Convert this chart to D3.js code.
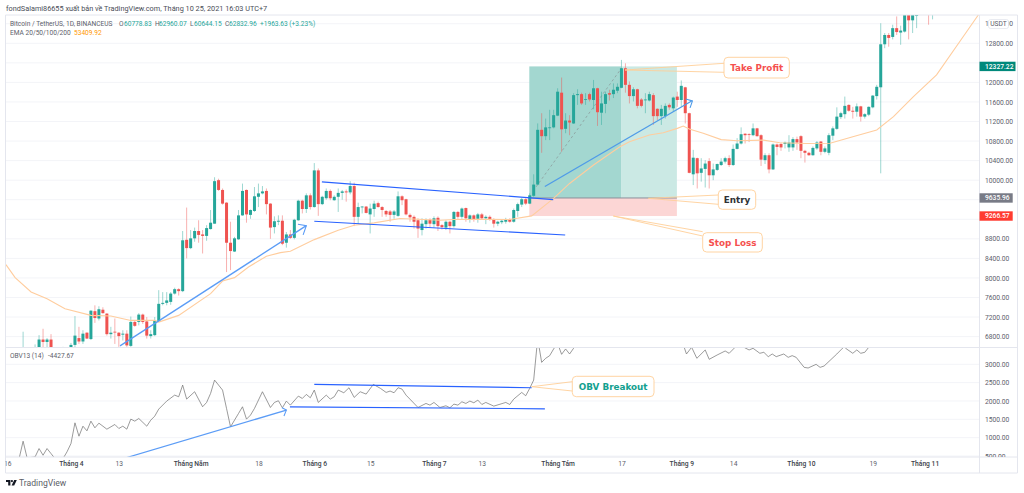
<!DOCTYPE html>
<html><head><meta charset="utf-8">
<style>html,body{margin:0;padding:0;background:#fff}svg{display:block}text{font-family:Roboto,"Open Sans",sans-serif}</style>
<script src="https://cdn.jsdelivr.net/npm/d3@7"></script></head><body><svg id="c" width="1024" height="493"></svg>
<script>
// Day index 0 = 16 March; candles start on day 4
const firstDay = 4;
const opens = [
6180,6200,6190,5820,6470,6740,6690,6740,6370,6250,
5880,6390,6410,6630,6770,6700,6880,6750,7320,7170,
7350,7270,6850,6900,6880,6840,6860,6610,7100,7100,
7250,7110,6810,6830,7120,7470,7490,7510,7680,7770,
7730,8780,8610,8810,8960,8890,8860,9000,9110,10000,
9800,9540,8720,8540,8790,9280,9800,9290,9370,9660,
9730,9780,9520,9040,9150,9170,8720,8890,8820,9180,
9580,9410,9690,9450,10200,9510,9630,9780,9590,9660,
9740,9770,9750,9880,9250,9450,9460,9300,9410,9530,
9450,9370,9360,9290,9270,9670,9610,9290,9250,9180,
8980,9100,9190,9100,9230,9080,9030,9150,9060,9350,
9250,9430,9200,9280,9210,9300,9220,9250,9200,9110,
9140,9150,9200,9150,9370,9500,9610,9520,9680,9910,
11030,10900,11070,11080,11320,11790,11050,11220,11160,11740,
11760,11650,11760,11640,11880,11380,11560,11780,11760,11830,
11890,12290,11950,11720,11860,11650,11640,11630,11740,11460,
11310,11310,11540,11470,11710,11640,11900,11370,10120,10450,
10150,10230,10390,10100,10210,10310,10380,10450,10310,10640,
10750,10950,10940,10920,11060,10920,10410,10510,10220,10730,
10740,10740,10670,10670,10840,10900,10600,10560,10510,10650,
10790,10580,10560,10910,11050,11290,11350,11540,11420,11400,
11510,11300,11340,11490,11720,11900,12780,12970,12930,13110,
13020,13040,13380,13270,13360,13600,13700,13800,13600];
const highs = [
6900,6450,6400,6640,6830,6960,6770,6850,6520,6290,
6590,6520,6670,7220,7000,6930,6890,7340,7440,7420,
7400,7280,7000,7170,6890,6930,6930,7210,7130,7280,
7270,7200,6930,7200,7750,7710,7710,7710,7800,7790,
8960,9440,8980,9030,9180,8980,9080,9390,10060,10030,
9830,9550,9150,8840,9390,9930,9810,9400,9860,9930,
9880,9830,9530,9260,9280,9280,8940,8980,9210,9600,
9600,9730,9730,10350,10240,9680,9830,9810,9690,9830,
9800,9810,9980,9950,9540,9470,9470,9520,9580,9560,
9470,9390,9390,9390,9770,9690,9620,9320,9280,9220,
9220,9220,9220,9260,9260,9100,9180,9170,9370,9370,
9440,9440,9300,9300,9330,9330,9280,9280,9220,9170,
9190,9230,9220,9420,9540,9640,9630,9730,10120,11160,
11370,11260,11440,11440,11880,12100,11370,11330,11780,11860,
11790,11780,11790,12050,11890,11810,11810,11850,11980,11980,
12460,12390,12020,11900,11870,11680,11780,11810,11780,11470,
11540,11570,11570,11710,11810,12040,11910,11380,10620,10460,
10450,10410,10450,10340,10340,10450,10480,10510,10730,10860,
11080,10960,10960,11160,11070,10940,10550,10550,10750,10750,
10770,10790,10920,10880,10890,10920,10620,10580,10690,10800,
10800,10690,10960,11100,11490,11400,11710,11550,11500,11570,
11520,11370,11510,11740,11950,13210,13010,13010,13180,13350,
13160,13490,13420,13420,13450,13800,13900,13900,13800];
const lows = [
5670,5850,5780,5780,6380,6520,6540,6260,6030,5860,
5860,6350,6150,6570,6650,6650,6750,6730,7080,7130,
7270,6820,6760,6650,6590,6720,6590,6590,7000,7030,
7060,6760,6760,6810,7100,7440,7440,7450,7660,7640,
7710,8400,8590,8740,8720,8500,8760,8990,9110,9780,
9500,8120,8160,8530,8780,9270,9130,9210,9350,9450,
9710,9300,8800,8910,9080,8670,8620,8800,8790,9170,
9320,9330,9400,9440,9270,9490,9600,9590,9580,9350,
9600,9560,9710,9060,9100,9320,9320,8910,9250,9440,
9250,9250,9150,9210,9250,9490,9280,9150,9010,8820,
8870,9010,9040,9030,8960,8990,8980,8910,9030,9210,
9210,9150,9130,9150,9130,9190,9100,9170,9030,9060,
9100,9110,9130,9130,9250,9450,9490,9510,9660,9900,
10560,10820,10820,11060,11310,10580,10960,10920,11150,11540,
11540,11540,11610,11450,11110,11130,11370,11630,11680,11780,
11880,11790,11570,11610,11470,11490,11370,11610,11130,11230,
11130,11260,11440,11400,11500,11500,11160,10140,9900,9830,
9970,9850,9830,10000,10190,10290,10340,10270,10290,10630,
10730,10750,10780,10900,10890,10290,10330,10140,10210,10510,
10600,10650,10580,10600,10620,10450,10360,10500,10500,10620,
10510,10550,10510,10820,11030,11250,11260,11400,11260,11300,
11200,11260,11310,11470,11650,10140,12700,12730,12880,12970,
12770,13020,12880,13010,13110,13500,13500,13180,13290];
const closes = [
6200,6190,5820,6470,6740,6690,6740,6370,6250,5880,
6390,6410,6630,6820,6700,6860,6760,7330,7180,7360,
7280,6850,6880,6885,6810,6860,6620,7100,7020,7250,
7100,6820,6850,7130,7470,7490,7540,7680,7770,7730,
8770,8610,8810,8960,8880,8860,9020,9130,9980,9800,
9520,8720,8550,8810,9280,9780,9300,9390,9670,9730,
9770,9510,9030,9160,9170,8700,8890,8820,9190,9580,
9410,9690,9450,10200,9510,9660,9780,9630,9660,9740,
9770,9750,9880,9250,9450,9460,9330,9420,9520,9450,
9390,9300,9290,9360,9670,9590,9300,9240,9150,9010,
9110,9180,9110,9220,9060,9040,9150,9060,9350,9250,
9420,9220,9280,9200,9300,9220,9250,9190,9110,9150,
9170,9200,9150,9390,9510,9610,9520,9690,9910,11030,
10900,11080,11080,11330,11810,11040,11220,11180,11740,11760,
11570,11660,11650,11880,11390,11570,11760,11750,11850,11910,
12290,11950,11720,11860,11520,11520,11650,11760,11310,11310,
11460,11520,11490,11690,11640,11930,11370,10150,10460,10140,
10240,10340,10100,10220,10330,10380,10450,10310,10640,10750,
10940,10920,10930,11060,10900,10420,10510,10220,10730,10680,
10670,10770,10770,10840,10770,10600,10560,10510,10660,10770,
10580,10650,10920,11060,11300,11370,11520,11420,11400,11510,
11300,11350,11500,11730,11910,12780,12970,12910,13110,13030,
13060,13380,13270,13380,13390,13700,13750,13600,13700];

const emaDays = [-0.3,2,6,10,14.5,21,26,31,37,38,43,51,54,57,60.5,65,68.5,71,77,83,
  87,92,98.5,103,108.5,112,119.5,126,131.5,137,141,147,153.6,156,161,164.5,168,169.5,171,
  174.5,179,183,189.6,193.7,200.4,206.3,212,218,222.2,227.2,233,239.7,243.5];
const emaValues = [8272,8006,7712,7575,7371,7234,7220,7131,7131,7097,7234,7678,7937,8006,8224,8443,8518,8545,8784,8976,
  9078,9126,9215,9201,9181,9194,9201,9194,9270,9626,9933,10309,10684,10787,10923,10971,11060,11108,11046,
  10960,10830,10805,10820,10765,10750,10755,10890,11026,11300,11709,12153,12939,13383];

const obvDays = [3,4,5,7,8,9,10,11,12,14,15,16,17,18,19,20,21,22,23,25,27,28,29,30,31,32,33,35,36,37,38,40,42,43,44,45,47,49,50,51,52,54,55,56,58,59,60,61,62,64,66,67,68,69,70,71,73,74,75,76,77,78,80,81,82,83,
  84.4,85.7,87,88.5,90,91.8,93.6,95,96,97,98,99,100,103,105,106,107,108.5,110,111,112,113,114,115,116,117,118,119,120,122,125,126,127,129,130,131,132,133,134,135,136,137,138,139,140,141,142,143,
  169,170.3,171.6,172.9,175,176,178,180,181,182.5,184.7,186,187,188.7,189.7,190.8,191.8,192.8,194.7,195.8,196.8,197.8,199.8,200.8,202.8,203.8,204.8,208,209,210,210.2,212,213,214,215,216,217];
const obvValues = [430,903,448,475,703,521,703,566,430,430,612,840,1404,1040,1313,1186,1450,1268,1395,1231,1359,1250,1313,1231,1505,1450,1523,1313,1477,1587,1778,1997,2160,2115,2434,2051,2252,1842,1960,2206,2570,2297,1796,1295,1659,1842,1505,1614,1796,2252,1823,1960,2006,1814,1997,1887,2133,2069,2179,2088,2297,1960,2160,2051,2115,2297,
  2224,2361,2097,2252,2188,2452,2343,2233,2270,2224,2361,2324,2160,1823,1933,1887,1960,1823,1869,1814,1915,1887,1978,1933,1997,1951,2024,1905,1960,1860,1960,1905,2051,2233,2142,2343,2570,3700,3053,3163,3235,3418,3570,3272,3418,3281,3436,3700,
  3700,3281,3464,3163,3391,3136,3254,3363,3300,3464,3464,3391,3436,3300,3327,3208,3281,3208,3281,3190,3236,3190,2917,2899,2999,2917,2953,3281,3391,3500,3436,3300,3391,3300,3327,3464,3800];

const gridTicks = [13200,12800,12400,12000,11600,11200,10800,10400,10000,9600,9200,8800,8400,8000,7600,7200,6800];
const priceTicks = [13200,12800,12000,11600,11200,10800,10400,10000,8800,8400,8000,7600,7200,6800];
const obvTicks = [3000,2500,2000,1500,1000,500];
const timeDays = [0,16,28,46,63,77,91,107,119,138,154,169,182,199,217,230];
const timeLabels = ["16","Tháng 4","13","Tháng Năm","18","Tháng 6","15","Tháng 7","13","Tháng Tám","17","Tháng 9","14","Tháng 10","19","Tháng 11"];

const takeProfit = 12327.22, entry = 9635.96, stopLoss = 9266.57;
const positionDays = [130.9,153.9,167.9];
const dashDays = [132.6,154], dashPrices = [9863,12290];

const wedgeMain = [[78.9,9965],[136.9,9604]];
const wedgeMainLow = [[77,9160],[139.9,8878]];
const arrowMainUp = [[28.3,6610],[75,9070]];
const arrowMainHead = [[72.9,9100],[75,9070],[74.2,8880]];
const arrowBox = [[134.8,9870],[171.6,11620]];
const arrowBoxHead = [[170.1,11660],[171.8,11620],[171.2,11480]];
const obvTop = [[77,2454],[131.5,2361]];
const obvLow = [[70.9,1841],[134.8,1787]];
const obvArrow = [[30,459],[70,1751]];
const obvArrowHead = [[68.9,1814],[70,1751],[69.4,1590]];

const left=5.5, axisX=979.5, right=1017.5, paneTop=15, split=347.5, paneBottom=457, frameEnd=473;
const svg = d3.select("#c");
const x = d3.scaleLinear().domain([0,230]).range([7.15,924.6]);
const y = d3.scaleLinear().domain([6800,12800]).range([336.6,43.3]);
const yO = d3.scaleLinear().domain([500,3000]).range([456,364.3]);
const defs = svg.append("defs");
defs.append("clipPath").attr("id","m").append("rect").attr("x",left).attr("y",paneTop).attr("width",axisX-left).attr("height",split-paneTop);
defs.append("clipPath").attr("id","o").append("rect").attr("x",left).attr("y",split).attr("width",axisX-left).attr("height",paneBottom-split);
defs.append("clipPath").attr("id","oa").append("rect").attr("x",axisX).attr("y",split).attr("width",right-axisX).attr("height",paneBottom-split);
defs.append("clipPath").attr("id","t").append("rect").attr("x",left).attr("y",paneBottom).attr("width",axisX-left).attr("height",frameEnd-paneBottom);

const GRID="#f3f4f8", BORDER="#e4e6ee", TXT="#5d606b", GREEN="#26a69a", RED="#ef5350";
const main = svg.append("g").attr("clip-path","url(#m)");
const obvG = svg.append("g").attr("clip-path","url(#o)");
main.selectAll(".g").data(gridTicks).join("line").attr("x1",left).attr("x2",axisX).attr("y1",d=>y(d)).attr("y2",d=>y(d)).attr("stroke",GRID).attr("stroke-width",1);
obvG.selectAll(".g").data(obvTicks).join("line").attr("x1",left).attr("x2",axisX).attr("y1",d=>yO(d)).attr("y2",d=>yO(d)).attr("stroke",GRID).attr("stroke-width",1);

main.append("rect").attr("x",x(positionDays[0])).attr("width",x(positionDays[1])-x(positionDays[0])).attr("y",y(takeProfit)).attr("height",y(entry)-y(takeProfit)).attr("fill","#a3d7d0");
main.append("rect").attr("x",x(positionDays[1])).attr("width",x(positionDays[2])-x(positionDays[1])).attr("y",y(takeProfit)).attr("height",y(entry)-y(takeProfit)).attr("fill","#cbe9e4");
main.append("rect").attr("x",x(positionDays[0])).attr("width",x(positionDays[2])-x(positionDays[0])).attr("y",y(entry)).attr("height",y(stopLoss)-y(entry)).attr("fill","#fcd6d5");
main.append("line").attr("x1",x(positionDays[0])).attr("x2",x(positionDays[2])).attr("y1",y(entry)).attr("y2",y(entry)).attr("stroke","#8b8e99").attr("stroke-width",1);
main.append("line").attr("x1",x(dashDays[0])).attr("x2",x(dashDays[1])).attr("y1",y(dashPrices[0])).attr("y2",y(dashPrices[1])).attr("stroke","#8b9c9c").attr("stroke-width",0.8).attr("stroke-dasharray","2.5 2.5");

const days = opens.map((_,i)=>i+firstDay);
const col = i => closes[i]>=opens[i]?GREEN:RED;
main.selectAll("line.w").data(days).join("line").attr("class","w")
  .attr("x1",d=>x(d)).attr("x2",d=>x(d))
  .attr("y1",(d,i)=>y(highs[i])).attr("y2",(d,i)=>y(lows[i]))
  .attr("stroke",(d,i)=>col(i)).attr("stroke-opacity",0.5).attr("stroke-width",0.9);
main.selectAll("rect.b").data(days).join("rect").attr("class","b")
  .attr("x",d=>x(d)-1.5).attr("width",3)
  .attr("y",(d,i)=>y(Math.max(opens[i],closes[i])))
  .attr("height",(d,i)=>Math.max(0.8,Math.abs(y(opens[i])-y(closes[i]))))
  .attr("fill",(d,i)=>col(i));

main.append("path").attr("d",d3.line().x(d=>x(d)).y((d,i)=>y(emaValues[i]))(emaDays)).attr("fill","none").attr("stroke","#ffcd9e").attr("stroke-width",1.1);
obvG.append("path").attr("d",d3.line().x(d=>x(d)).y((d,i)=>yO(obvValues[i]))(obvDays)).attr("fill","none").attr("stroke","#707070").attr("stroke-width",0.7);

const pl = (g,pts,sc,stroke,w)=>g.append("path").attr("d",d3.line().x(d=>x(d[0])).y(d=>sc(d[1]))(pts)).attr("fill","none").attr("stroke",stroke).attr("stroke-width",w);
const BLUE="#2962ff", LB="#5b9cf6";
pl(main,wedgeMain,y,BLUE,1.2);
pl(main,wedgeMainLow,y,BLUE,1.2);
pl(main,arrowMainUp,y,LB,1.3);
pl(main,arrowMainHead,y,LB,1.1);
pl(main,arrowBox,y,"#4f9be8",1.3);
pl(main,arrowBoxHead,y,"#4f9be8",1.1);
pl(obvG,obvTop,yO,BLUE,1.2);
pl(obvG,obvLow,yO,BLUE,1.2);
pl(obvG,obvArrow,yO,LB,1.3);
pl(obvG,obvArrowHead,yO,LB,1.1);

const fr=(a,b,c,d)=>svg.append("line").attr("x1",a).attr("y1",b).attr("x2",c).attr("y2",d).attr("stroke",BORDER).attr("stroke-width",1);
fr(left,paneTop,right,paneTop);fr(left,paneTop,left,frameEnd);fr(left,frameEnd,right,frameEnd);fr(right,paneTop,right,frameEnd);
fr(axisX,paneTop,axisX,frameEnd);fr(left,split,right,split);fr(left,paneBottom,right,paneBottom);

const axP = svg.append("g").attr("transform",`translate(${axisX},0)`).call(d3.axisRight(y).tickValues(priceTicks).tickFormat(d3.format(".2f")).tickSize(0).tickPadding(5.5));
const axO = svg.append("g").attr("clip-path","url(#oa)").append("g").attr("transform",`translate(${axisX},0)`).call(d3.axisRight(yO).tickValues(obvTicks).tickFormat(d3.format(".2f")).tickSize(0).tickPadding(5.5));
const axT = svg.append("g").attr("clip-path","url(#t)").append("g").attr("transform",`translate(0,${paneBottom})`).call(d3.axisBottom(x).tickValues(timeDays).tickFormat((d,i)=>timeLabels[i]).tickSize(0).tickPadding(4.5));
[axP,axO,axT].forEach(a=>{a.select(".domain").remove();a.selectAll("text").attr("font-family","Roboto").attr("font-size",6.7).attr("fill",TXT);});
axT.selectAll("text").attr("font-weight",(d,i)=>timeLabels[i].startsWith("Th")?500:400).attr("fill",(d,i)=>timeLabels[i].startsWith("Th")?"#3c3f4a":"#5d606b");

const tag=(v,c,x2)=>{const yy=y(v);
 svg.append("rect").attr("x",axisX).attr("y",yy-4.7).attr("width",x2-axisX).attr("height",9.4).attr("fill",c);
 svg.append("text").attr("x",985).attr("y",yy+2.4).attr("font-size",6.7).attr("fill","#fff").attr("font-weight",500).text(d3.format(".2f")(v));};
tag(takeProfit,"#00897b",1015.5);tag(entry,"#787b86",1012.7);tag(stopLoss,"#ff3b30",1012.7);
svg.append("rect").attr("x",988.5).attr("y",19.5).attr("width",20).attr("height",9).attr("rx",2).attr("fill","#fff").attr("stroke","#e0e3eb").attr("stroke-width",0.7);
svg.append("text").attr("x",998.5).attr("y",26.4).attr("text-anchor","middle").attr("font-size",6.7).attr("fill",TXT).text("USDT");

const ORANGE="#ffcf99";
const callout=(bx,by,bw,bh,txt,color,tipX,tipY,ax1,ay1,ax2,ay2)=>{
  svg.append("path").attr("d",`M${ax1},${ay1}L${tipX},${tipY}L${ax2},${ay2}`).attr("fill","none").attr("stroke",ORANGE).attr("stroke-width",0.9);
  svg.append("rect").attr("x",bx).attr("y",by).attr("width",bw).attr("height",bh).attr("rx",4).attr("fill","#fff").attr("stroke",ORANGE).attr("stroke-width",0.9);
  svg.append("text").attr("x",bx+bw/2).attr("y",by+bh/2+3.2).attr("text-anchor","middle").style("font-family","'DejaVu Sans'").attr("font-weight",700).attr("font-size",8.8).attr("fill",color).text(txt);
};
callout(724,57.3,65.3,20.7,"Take Profit","#f5514f",625,70,724,63.3,724,72.3);
callout(718.3,190,37.4,19.3,"Entry","#2f3135",648.3,198.3,718.3,195,718.3,204.3);
callout(702.7,232.7,59.6,19.3,"Stop Loss","#f5514f",613.3,216,702.7,231.7,702.7,236);
callout(572.3,376.3,81.7,20.4,"OBV Breakout","#12a08f",531.7,386.7,572.3,381.7,572.3,391);

const t=(xx,yy,s,c,fs)=>svg.append("text").attr("x",xx).attr("y",yy).attr("font-size",fs||6.6).attr("fill",c||TXT).text(s);
t(6,11,"fondSalami86655 xuất bản về TradingView.com, Tháng 10 25, 2021 16:03 UTC+7","#4a4d57",7.3);
t(10,25.5,"Bitcoin / TetherUS, 1D, BINANCEUS");
t(119,25.5,"O");t(124,25.5,"60778.83",GREEN);
t(155,25.5,"H");t(159,25.5,"62960.07",GREEN);
t(190,25.5,"L");t(194,25.5,"60644.15",GREEN);
t(225,25.5,"C");t(229,25.5,"62832.96",GREEN);
t(260,25.5,"+1963.63 (+3.23%)",GREEN);
t(10,35,"EMA 20/50/100/200");t(74,35,"53409.92","#ff9800");
t(10,358,"OBV13 (14)");t(48,358,"-4427.67");

const lg=svg.append("g").attr("transform","translate(6,480)").attr("fill","#131722");
lg.append("path").attr("d","M0 0H4.4V5.6H2.2V2.1H0Z");
lg.append("circle").attr("cx",5.9).attr("cy",1.1).attr("r",1.1);
lg.append("path").attr("d","M8.2 0H10.8L8.2 5.6H5.6Z");
t(19,486,"TradingView","#5a5d66",8.6);
</script></body></html>
